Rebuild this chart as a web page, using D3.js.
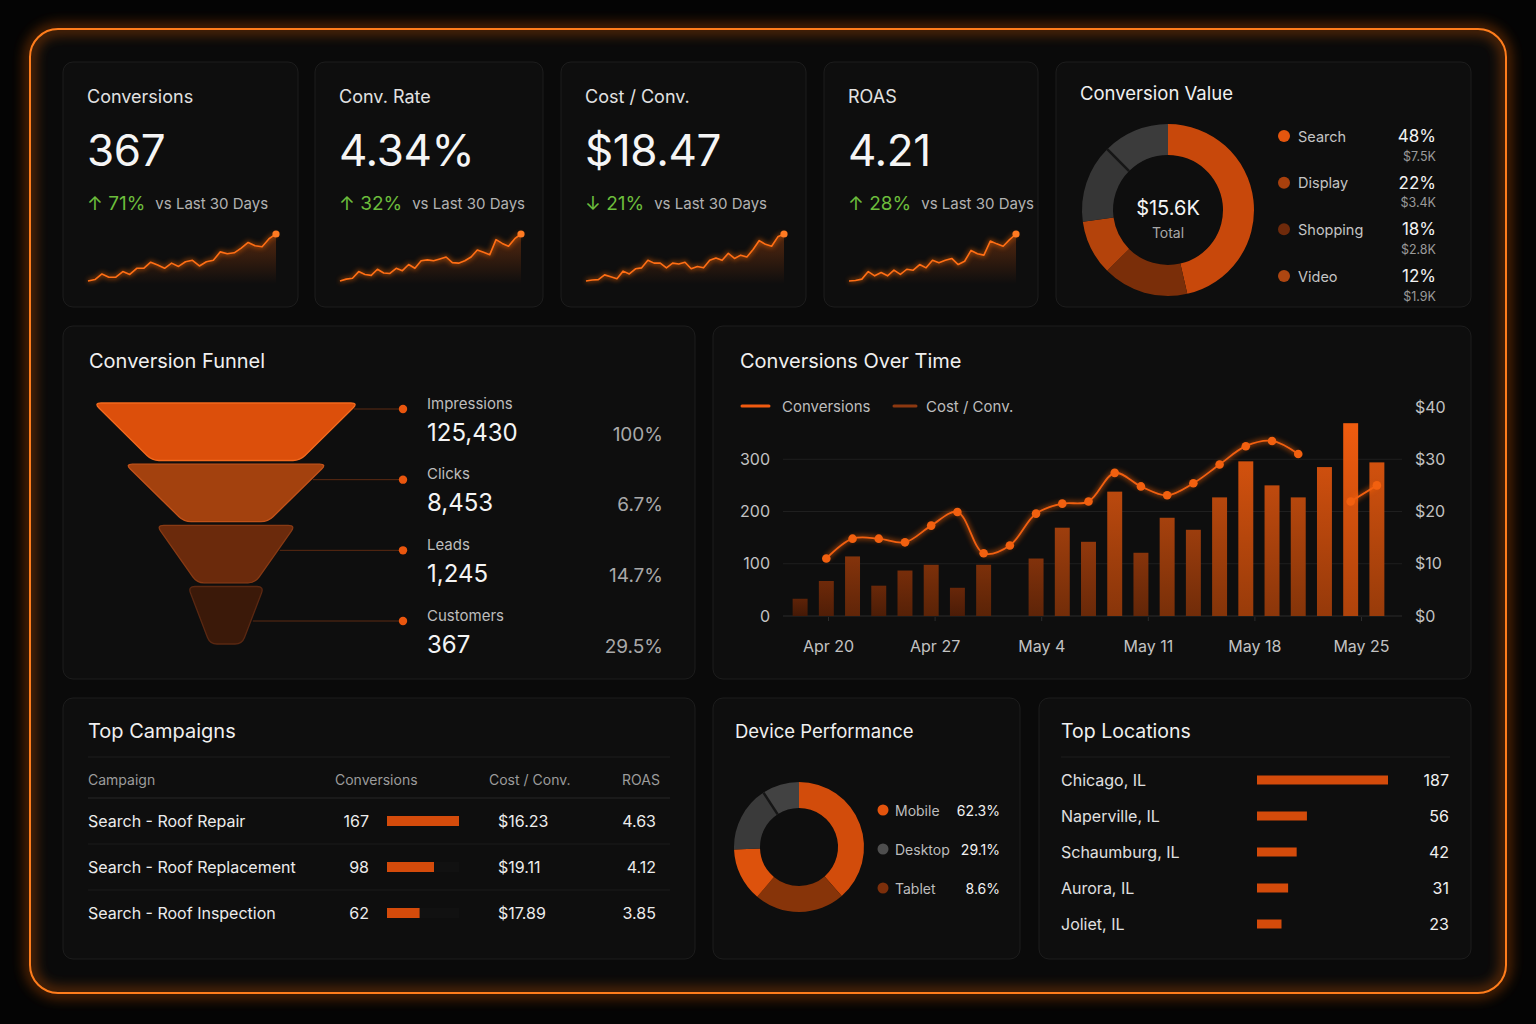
<!DOCTYPE html>
<html>
<head>
<meta charset="utf-8">
<script src="https://cdn.jsdelivr.net/npm/d3@7"></script>
<style>
html, body { margin: 0; background: #040404; }
svg { display: block; font-family: Inter, "Noto Sans", "DejaVu Sans", sans-serif; }
</style>
</head>
<body>
<svg id="dash" width="1536" height="1024"></svg>
<script>
// KPI cards
var kpiTitles = ["Conversions", "Conv. Rate", "Cost / Conv.", "ROAS"];
var kpiValues = ["367", "4.34%", "$18.47", "4.21"];
var kpiDeltas = ["71%", "32%", "21%", "28%"];
var kpiArrows = ["↑", "↑", "↓", "↑"];
var sparkConversions = [0, 3, 15, 8, 8, 20, 14, 27, 27, 40, 34, 27, 38, 31, 41, 44, 32, 41, 44, 62, 58, 60, 70, 82, 75, 73, 90, 100];
var sparkConvRate = [0, 4, 6, 20, 14, 12, 25, 17, 16, 27, 22, 35, 27, 43, 45, 43, 47, 51, 39, 38, 43, 51, 66, 61, 56, 88, 80, 74, 90, 100];
var sparkCostConv = [0, 2, 3, 13, 9, 5, 21, 15, 26, 28, 44, 38, 38, 28, 38, 36, 40, 26, 31, 28, 44, 49, 44, 59, 48, 55, 51, 67, 86, 78, 74, 94, 100];
var sparkRoas = [0, 1, 4, 20, 11, 18, 11, 23, 14, 25, 23, 35, 28, 44, 39, 44, 48, 35, 42, 65, 58, 55, 85, 79, 74, 88, 100];

// Conversion value
var channelNames = ["Search", "Display", "Shopping", "Video"];
var channelShare = ["48%", "22%", "18%", "12%"];
var channelValue = ["$7.5K", "$3.4K", "$2.8K", "$1.9K"];
var valueRing = [46.4, 16.1, 10.3, 14.7, 12.5]; // ring arcs as drawn

// Funnel
var funnelStages = ["Impressions", "Clicks", "Leads", "Customers"];
var funnelCounts = [125430, 8453, 1245, 367];
var funnelRates = ["100%", "6.7%", "14.7%", "29.5%"];

// Conversions over time
var convLine = [null, 110, 148, 148, 141, 173, 199, 120, 135, 196, 215, 219, 274, 248, 231, 254, 290, 325, 335, 310, null, 219, 250];
var costBars = [3.3, 6.7, 11.4, 5.8, 8.7, 9.8, 5.4, 9.8, 0, 11.0, 16.9, 14.2, 23.8, 12.1, 18.8, 16.5, 22.7, 29.6, 25.0, 22.7, 28.5, 36.9, 29.4];
var dateTicks = ["2024-04-20", "2024-04-27", "2024-05-04", "2024-05-11", "2024-05-18", "2024-05-25"];
var leftTicks = [0, 100, 200, 300];
var rightTicks = [0, 10, 20, 30, 40];

// Campaigns
var campaignNames = ["Search - Roof Repair", "Search - Roof Replacement", "Search - Roof Inspection"];
var campaignConv = [167, 98, 62];
var campaignCost = ["$16.23", "$19.11", "$17.89"];
var campaignRoas = ["4.63", "4.12", "3.85"];

// Devices
var deviceNames = ["Mobile", "Desktop", "Tablet"];
var deviceShare = ["62.3%", "29.1%", "8.6%"];
var deviceRing = [38.6, 22.5, 13.3, 16.4, 9.2]; // ring arcs as drawn

// Locations
var cityNames = ["Chicago, IL", "Naperville, IL", "Schaumburg, IL", "Aurora, IL", "Joliet, IL"];
var cityConv = [187, 56, 42, 31, 23];

var svg = d3.select("#dash");
var defs = svg.append("defs");

// blur filter helper
function blurFilter(id, sd) {
    var f = defs.append("filter").attr("id", id)
        .attr("x", "-20%").attr("y", "-20%").attr("width", "140%").attr("height", "140%");
    f.append("feGaussianBlur").attr("stdDeviation", sd);
    return f;
}
blurFilter("frameGlow", 7);
blurFilter("softGlow", 2.5);

function txt(x, y, s, size, fill, anchor) {
    return svg.append("text").attr("x", x).attr("y", y)
        .attr("dominant-baseline", "central")
        .attr("font-size", size).attr("fill", fill)
        .attr("text-anchor", anchor || "start").text(s);
}

// outer frame
svg.append("rect").attr("width", 1536).attr("height", 1024).attr("fill", "#040404");
svg.append("rect").attr("x", 30).attr("y", 29).attr("width", 1476).attr("height", 964).attr("rx", 28)
    .attr("fill", "#0a0a0a");
svg.append("rect").attr("x", 30).attr("y", 29).attr("width", 1476).attr("height", 964).attr("rx", 28)
    .attr("fill", "none").attr("stroke", "#ff6a00").attr("stroke-width", 5).attr("opacity", 0.75)
    .attr("filter", "url(#frameGlow)");
svg.append("rect").attr("x", 30).attr("y", 29).attr("width", 1476).attr("height", 964).attr("rx", 28)
    .attr("fill", "none").attr("stroke", "#ff7d1c").attr("stroke-width", 2);

// panels
var panels = [
    [63, 62, 235, 245], [315, 62, 228, 245], [561, 62, 245, 245], [824, 62, 214, 245], [1056, 62, 415, 245],
    [63, 326, 632, 353], [713, 326, 758, 353],
    [63, 698, 632, 261], [713, 698, 307, 261], [1039, 698, 432, 261]
];
svg.selectAll("rect.panel").data(panels).enter().append("rect").attr("class", "panel")
    .attr("x", d => d[0]).attr("y", d => d[1]).attr("width", d => d[2]).attr("height", d => d[3])
    .attr("rx", 10).attr("fill", "#0e0e0e").attr("stroke", "#1d1d1d").attr("stroke-width", 1);

// ---- KPI cards ----
var sparkFill = defs.append("linearGradient").attr("id", "sparkFill").attr("x1", 0).attr("y1", 0).attr("x2", 0).attr("y2", 1);
sparkFill.append("stop").attr("offset", "0%").attr("stop-color", "#ff6410").attr("stop-opacity", 0.3);
sparkFill.append("stop").attr("offset", "100%").attr("stop-color", "#ff6410").attr("stop-opacity", 0);

var sparks = [sparkConversions, sparkConvRate, sparkCostConv, sparkRoas];
kpiTitles.forEach(function(t, i) {
    var p = panels[i], x0 = p[0] + 24;
    txt(x0, 96, t, 18, "#e2e2e2");
    txt(x0, 150, kpiValues[i], 44, "#f5f5f5").attr("letter-spacing", -0.4);
    var row = svg.append("text").attr("x", x0).attr("y", 203).attr("dominant-baseline", "central");
    row.append("tspan").attr("fill", "#6cbd3c").attr("font-size", 19).text(kpiArrows[i] + " " + kpiDeltas[i]);
    row.append("tspan").attr("dx", 10).attr("fill", "#b2b2b2").attr("font-size", 15).text("vs Last 30 Days");

    var s = sparks[i];
    var sx = d3.scaleLinear().domain([0, s.length - 1]).range([x0 + 1, p[0] + p[2] - 22]);
    var sy = d3.scaleLinear().domain([0, 100]).range([281, 234]);
    var area = d3.area().x((d, j) => sx(j)).y0(284).y1(d => sy(d));
    var line = d3.line().x((d, j) => sx(j)).y(d => sy(d));
    svg.append("path").attr("d", area(s)).attr("fill", "url(#sparkFill)");
    svg.append("path").attr("d", line(s)).attr("fill", "none").attr("stroke", "#ff6a10")
        .attr("stroke-width", 3).attr("opacity", 0.6).attr("filter", "url(#softGlow)");
    svg.append("path").attr("d", line(s)).attr("fill", "none").attr("stroke", "#ff6e14")
        .attr("stroke-width", 1.6).attr("stroke-linejoin", "round");
    svg.append("circle").attr("cx", sx(s.length - 1)).attr("cy", sy(s[s.length - 1])).attr("r", 3.6)
        .attr("fill", "#ff7a22");
});

// ---- Conversion Value ----
txt(1080, 93, "Conversion Value", 18.5, "#f0f0f0");
var ringColors = ["#c8480b", "#7a2e09", "#b4430b", "#363636", "#3b3b3b"];
var pie = d3.pie().sort(null).value(d => d);
var arcV = d3.arc().innerRadius(55).outerRadius(86);
var gV = svg.append("g").attr("transform", "translate(1168,210)");
var vArcs = pie(valueRing);
gV.selectAll("path").data(vArcs).enter().append("path")
    .attr("d", arcV).attr("fill", (d, i) => ringColors[i]);
// divider between the grey parts
var va = vArcs[3].endAngle;
gV.append("line").attr("x1", 55 * Math.sin(va)).attr("y1", -55 * Math.cos(va))
    .attr("x2", 86 * Math.sin(va)).attr("y2", -86 * Math.cos(va))
    .attr("stroke", "#161616").attr("stroke-width", 2.5);
txt(1168, 208, "$15.6K", 20, "#f4f4f4", "middle");
txt(1168, 232, "Total", 14, "#a8a8a8", "middle");

var chanY = d3.scalePoint().domain(channelNames).range([136, 276]);
var chanColors = ["#e4560e", "#a7400d", "#6e2a0b", "#ad4611"];
channelNames.forEach(function(n, i) {
    var y = chanY(n);
    svg.append("circle").attr("cx", 1284).attr("cy", y).attr("r", 6).attr("fill", chanColors[i]);
    txt(1298, y, n, 14.5, "#c4c4c4");
    txt(1436, y, channelShare[i], 17, "#f2f2f2", "end");
    txt(1436, y + 20, channelValue[i], 12.5, "#9a9a9a", "end");
});

// ---- Conversion Funnel ----
txt(89, 361, "Conversion Funnel", 20, "#f0f0f0");
var fy = d3.scaleBand().domain(funnelStages).range([403, 644]).paddingInner(0.06);
var topHalf = d3.scaleLinear().domain([0, 3]).range([132, 38]);
var botHalf = d3.scaleLinear().domain([0, 1, 3]).range([74, 42, 16]);
var funnelFill = ["#dc4f0b", "#a3410e", "#6b2a0c", "#3b1909"];
var funnelEdge = ["#f26a1e", "#c2531a", "#883a14", "#5a2812"];
var fcx = 226;

function toward(p, q, r) {
    var dx = q[0] - p[0], dy = q[1] - p[1], l = Math.hypot(dx, dy);
    var t = Math.min(r, l / 2) / l;
    return [p[0] + dx * t, p[1] + dy * t];
}
function roundPoly(pts, r) {
    var n = pts.length, d = "";
    for (var i = 0; i < n; i++) {
        var a = toward(pts[i], pts[(i - 1 + n) % n], r), b = toward(pts[i], pts[(i + 1) % n], r);
        d += (i === 0 ? "M" : "L") + a[0] + "," + a[1] + "Q" + pts[i][0] + "," + pts[i][1] + " " + b[0] + "," + b[1];
    }
    return d + "Z";
}

var rowY = d3.scalePoint().domain(funnelStages).range([409, 621]);
funnelStages.forEach(function(st, i) {
    var y0 = fy(st), y1 = y0 + fy.bandwidth();
    var th = topHalf(i), bh = botHalf(i);
    var pts = [[fcx - th, y0], [fcx + th, y0], [fcx + bh, y1], [fcx - bh, y1]];
    svg.append("path").attr("d", roundPoly(pts, 7)).attr("fill", funnelFill[i])
        .attr("stroke", funnelEdge[i]).attr("stroke-width", 1.3);

    // leader line from the right edge to the dot
    var ly = rowY(st);
    var t = Math.max(0, Math.min(1, (ly - y0) / (y1 - y0)));
    var ex = fcx + th + (bh - th) * t;
    svg.append("line").attr("x1", ex + 2).attr("x2", 403).attr("y1", ly).attr("y2", ly)
        .attr("stroke", "#5c2a12").attr("stroke-width", 1);
    svg.append("circle").attr("cx", 403).attr("cy", ly).attr("r", 4.2).attr("fill", "#e9560e");

    txt(427, ly - 6, st, 15, "#bdbdbd");
    txt(427, ly + 23, d3.format(",")(funnelCounts[i]), 24, "#f4f4f4");
    txt(663, ly + 25, funnelRates[i], 19, "#a9a9a9", "end");
});

// ---- Conversions Over Time ----
txt(740, 361, "Conversions Over Time", 20, "#f0f0f0");
svg.append("line").attr("x1", 742).attr("x2", 769).attr("y1", 406).attr("y2", 406)
    .attr("stroke", "#f05a10").attr("stroke-width", 3).attr("stroke-linecap", "round");
txt(782, 406, "Conversions", 15, "#bdbdbd");
svg.append("line").attr("x1", 894).attr("x2", 916).attr("y1", 406).attr("y2", 406)
    .attr("stroke", "#8c3810").attr("stroke-width", 3).attr("stroke-linecap", "round");
txt(926, 406, "Cost / Conv.", 15, "#bdbdbd");

var cx = d3.scaleBand().domain(d3.range(costBars.length)).range([787, 1390])
    .paddingInner(0.43).paddingOuter(0.215);
var yL = d3.scaleLinear().domain([0, 400]).range([616, 407]);
var yR = d3.scaleLinear().domain([0, 40]).range([616, 407]);
var tx = d3.scaleTime().domain([new Date(2024, 3, 20), new Date(2024, 4, 25)]).range([828, 1361]);

// grid
svg.append("g").selectAll("line").data(leftTicks).enter().append("line")
    .attr("x1", 783).attr("x2", 1402).attr("y1", d => yL(d)).attr("y2", d => yL(d))
    .attr("stroke", d => d === 0 ? "#2a2a2a" : "#1f1f1f").attr("stroke-width", 1);

var axL = svg.append("g").attr("transform", "translate(770,0)")
    .call(d3.axisLeft(yL).tickValues(leftTicks).tickSize(0).tickPadding(0));
var axR = svg.append("g").attr("transform", "translate(1415,0)")
    .call(d3.axisRight(yR).tickValues(rightTicks).tickSize(0).tickPadding(0).tickFormat(d => "$" + d));
var parse = d3.timeParse("%Y-%m-%d");
var axB = svg.append("g").attr("transform", "translate(0,617)")
    .call(d3.axisBottom(tx).tickValues(dateTicks.map(parse)).tickSize(4).tickFormat(d3.timeFormat("%b %-d")));
[axL, axR, axB].forEach(function(a) {
    a.select(".domain").remove();
    a.selectAll("text").attr("fill", "#c2c2c2").attr("font-size", 16).attr("font-family", "Inter, 'Noto Sans', sans-serif");
    a.selectAll("line").attr("stroke", "#2c2c2c");
});
axB.selectAll("text").attr("y", 29).attr("dy", "0.35em");

// bars
var barColor = d3.scaleLinear().domain([0, 18, 37]).range(["#4e1c07", "#a3400d", "#f05c0f"]);
costBars.forEach(function(v, i) {
    var c = barColor(v);
    var g = defs.append("linearGradient").attr("id", "cb" + i).attr("x1", 0).attr("y1", 0).attr("x2", 0).attr("y2", 1);
    g.append("stop").attr("offset", "0%").attr("stop-color", c);
    g.append("stop").attr("offset", "100%").attr("stop-color", d3.color(c).darker(0.9));
});
svg.append("g").selectAll("rect").data(costBars).enter().append("rect")
    .attr("x", (d, i) => cx(i)).attr("width", cx.bandwidth())
    .attr("y", d => yR(d)).attr("height", d => yR(0) - yR(d))
    .attr("fill", (d, i) => "url(#cb" + i + ")");

// conversions line
var cLine = d3.line().defined(d => d != null)
    .x((d, i) => cx(i) + cx.bandwidth() / 2).y(d => yL(d))
    .curve(d3.curveCatmullRom.alpha(0.5));
svg.append("path").attr("d", cLine(convLine)).attr("fill", "none").attr("stroke", "#ff6410")
    .attr("stroke-width", 4).attr("opacity", 0.55).attr("filter", "url(#softGlow)");
svg.append("path").attr("d", cLine(convLine)).attr("fill", "none").attr("stroke", "#f2600f")
    .attr("stroke-width", 1.8);
var pts = convLine.map((v, i) => ({ v: v, i: i })).filter(d => d.v != null);
svg.append("g").selectAll("circle").data(pts).enter().append("circle")
    .attr("cx", d => cx(d.i) + cx.bandwidth() / 2).attr("cy", d => yL(d.v)).attr("r", 4.3)
    .attr("fill", "#f2600f");

// ---- Top Campaigns ----
txt(88, 731, "Top Campaigns", 20, "#f0f0f0");
svg.append("line").attr("x1", 88).attr("x2", 670).attr("y1", 757).attr("y2", 757).attr("stroke", "#1c1c1c");
txt(88, 779, "Campaign", 14, "#9c9c9c");
txt(335, 779, "Conversions", 14, "#9c9c9c");
txt(489, 779, "Cost / Conv.", 14, "#9c9c9c");
txt(660, 779, "ROAS", 14, "#9c9c9c", "end");
svg.append("line").attr("x1", 88).attr("x2", 670).attr("y1", 798).attr("y2", 798).attr("stroke", "#262626");

var campY = d3.scalePoint().domain(campaignNames).range([821, 913]);
var campW = d3.scalePow().exponent(0.8).domain([0, 167]).range([0, 72]);
campaignNames.forEach(function(n, i) {
    var y = campY(n);
    if (i > 0) {
        svg.append("line").attr("x1", 88).attr("x2", 670).attr("y1", y - 23).attr("y2", y - 23).attr("stroke", "#1a1a1a");
    }
    txt(88, y, n, 16, "#ececec");
    txt(369, y, campaignConv[i], 16, "#ececec", "end");
    svg.append("rect").attr("x", 387).attr("y", y - 5).attr("width", campW(167)).attr("height", 10).attr("fill", "#111111");
    svg.append("rect").attr("x", 387).attr("y", y - 5).attr("width", campW(campaignConv[i])).attr("height", 10).attr("fill", "#d44b0b");
    txt(498, y, campaignCost[i], 16, "#ececec");
    txt(656, y, campaignRoas[i], 16, "#ececec", "end");
});

// ---- Device Performance ----
txt(735, 731, "Device Performance", 18.5, "#f0f0f0");
var devColors = ["#d24c0b", "#873409", "#dd520c", "#3a3a3a", "#424242"];
var arcD = d3.arc().innerRadius(39).outerRadius(65);
var gD = svg.append("g").attr("transform", "translate(799,847)");
var dArcs = pie(deviceRing);
gD.selectAll("path").data(dArcs).enter().append("path").attr("d", arcD).attr("fill", (d, i) => devColors[i]);
var da = dArcs[3].endAngle;
gD.append("line").attr("x1", 39 * Math.sin(da)).attr("y1", -39 * Math.cos(da))
    .attr("x2", 65 * Math.sin(da)).attr("y2", -65 * Math.cos(da))
    .attr("stroke", "#161616").attr("stroke-width", 2.5);

var devY = d3.scalePoint().domain(deviceNames).range([810, 888]);
var devDots = ["#e4540d", "#4e4e4e", "#7c2f0b"];
deviceNames.forEach(function(n, i) {
    var y = devY(n);
    svg.append("circle").attr("cx", 883).attr("cy", y).attr("r", 5.5).attr("fill", devDots[i]);
    txt(895, y, n, 14, "#bdbdbd");
    txt(1000, y, deviceShare[i], 14, "#f0f0f0", "end");
});

// ---- Top Locations ----
txt(1061, 731, "Top Locations", 19.5, "#f0f0f0");
svg.append("line").attr("x1", 1061).attr("x2", 1450).attr("y1", 757).attr("y2", 757).attr("stroke", "#1c1c1c");
var cityY = d3.scalePoint().domain(cityNames).range([780, 924]);
var cityW = d3.scalePow().exponent(0.8).domain([0, 187]).range([0, 131]);
cityNames.forEach(function(n, i) {
    var y = cityY(n);
    txt(1061, y, n, 16, "#e0e0e0");
    svg.append("rect").attr("x", 1257).attr("y", y - 4.5).attr("width", cityW(cityConv[i])).attr("height", 9)
        .attr("fill", "#d44b0b");
    txt(1449, y, cityConv[i], 16, "#f0f0f0", "end");
});
</script>
</body>
</html>
